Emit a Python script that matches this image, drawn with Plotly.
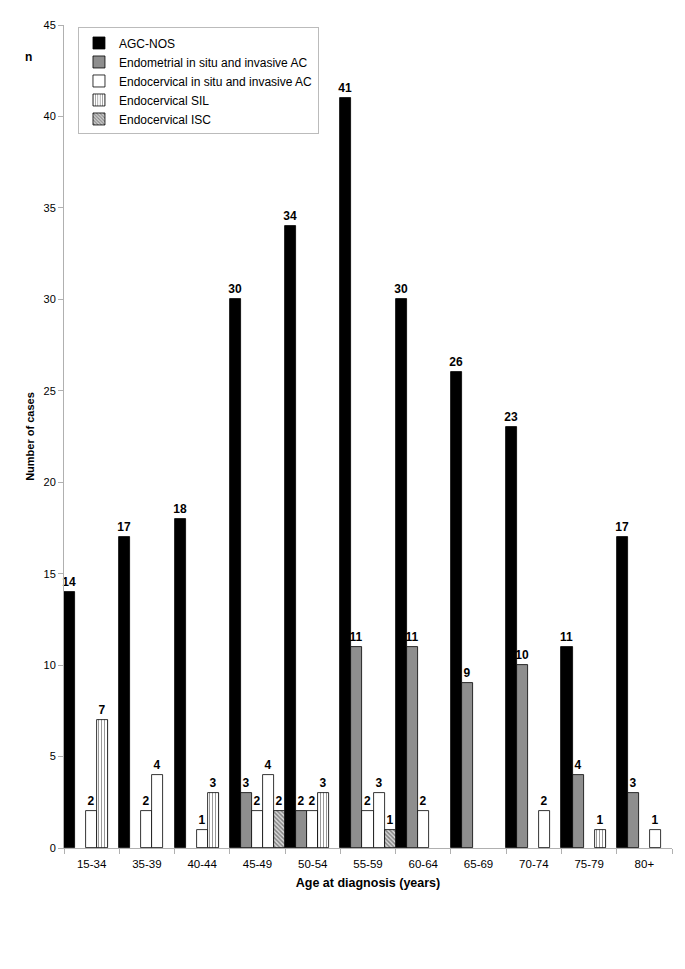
import plotly.graph_objects as go

# data
age_groups = ['15-34', '35-39', '40-44', '45-49', '50-54', '55-59',
              '60-64', '65-69', '70-74', '75-79', '80+']
agc_nos = [14, 17, 18, 30, 34, 41, 30, 26, 23, 11, 17]
endometrial = [None, None, None, 3, 2, 11, 11, 9, 10, 4, 3]
endocervical_ac = [2, 2, 1, 2, 2, 2, 2, None, None, None, None]
endocervical_sil = [7, 4, 3, 4, 3, 3, None, None, 2, 1, 1]
sil_striped = [True, False, True, False, True, False, False, False, False, True, False]
endocervical_isc = [None, None, None, 2, None, 1, None, None, None, None, None]

FONT = 'Liberation Sans, Arial, sans-serif'


def labels(vals):
    return ['' if v is None else str(v) for v in vals]


fig = go.Figure()

series = [
    ('AGC-NOS', agc_nos, 'black', '', 0.3),
    ('Endometrial in situ and invasive AC', endometrial, '#8e8e8e', '', 0.3),
    ('Endocervical in situ and invasive AC', endocervical_ac, 'white', '', 0.3),
    ('Endocervical SIL', endocervical_sil, 'white', ['|' if s else '' for s in sil_striped], 0.35),
    ('Endocervical ISC', endocervical_isc, '#d8d8d8', '\\', 0.5),
]

for name, vals, color, pattern, solid in series:
    fig.add_bar(
        x=age_groups, y=vals, name=name,
        text=labels(vals), textposition='outside',
        textfont=dict(family=FONT, size=12, color='black', weight='bold'),
        cliponaxis=False,
        marker=dict(
            color=color,
            line=dict(color='black', width=0.8),
            pattern=dict(shape=pattern, fgcolor='#333333', size=3, solidity=solid),
        ),
    )

fig.update_layout(
    width=677, height=961,
    barmode='group', bargap=0, bargroupgap=0,
    plot_bgcolor='white', paper_bgcolor='white',
    margin=dict(l=56, r=13, t=17, b=121),
    font=dict(family=FONT, size=11, color='black'),
    showlegend=True,
    legend=dict(
        x=0.023, y=0.997, xanchor='left', yanchor='top',
        bordercolor='#bbbbbb', borderwidth=1, bgcolor='white',
        font=dict(family=FONT, size=12), tracegroupgap=0,
        itemwidth=30,
    ),
    xaxis=dict(
        title=dict(text='<b>Age at diagnosis (years)</b>', font=dict(size=12.5), standoff=9),
        showline=True, linecolor='#b0b0b0', linewidth=1,
        ticks='outside', tickson='boundaries', ticklen=5, tickcolor='#b0b0b0',
        tickfont=dict(size=11.5), ticklabelstandoff=5, showgrid=False,
    ),
    yaxis=dict(
        title=dict(text='<b>Number of cases</b>', font=dict(size=11), standoff=6),
        range=[0, 45], dtick=5,
        showline=True, linecolor='#b0b0b0', linewidth=1,
        ticks='outside', ticklen=5, tickcolor='#b0b0b0',
        tickfont=dict(size=11), showgrid=False, zeroline=False,
    ),
)

fig.update_traces(constraintext='none')

fig.add_annotation(
    text='<b>n</b>', xref='paper', yref='paper', x=-0.058, y=0.961,
    xanchor='center', yanchor='middle',
    showarrow=False, font=dict(size=12, family=FONT),
)

fig.write_html('out.html')
